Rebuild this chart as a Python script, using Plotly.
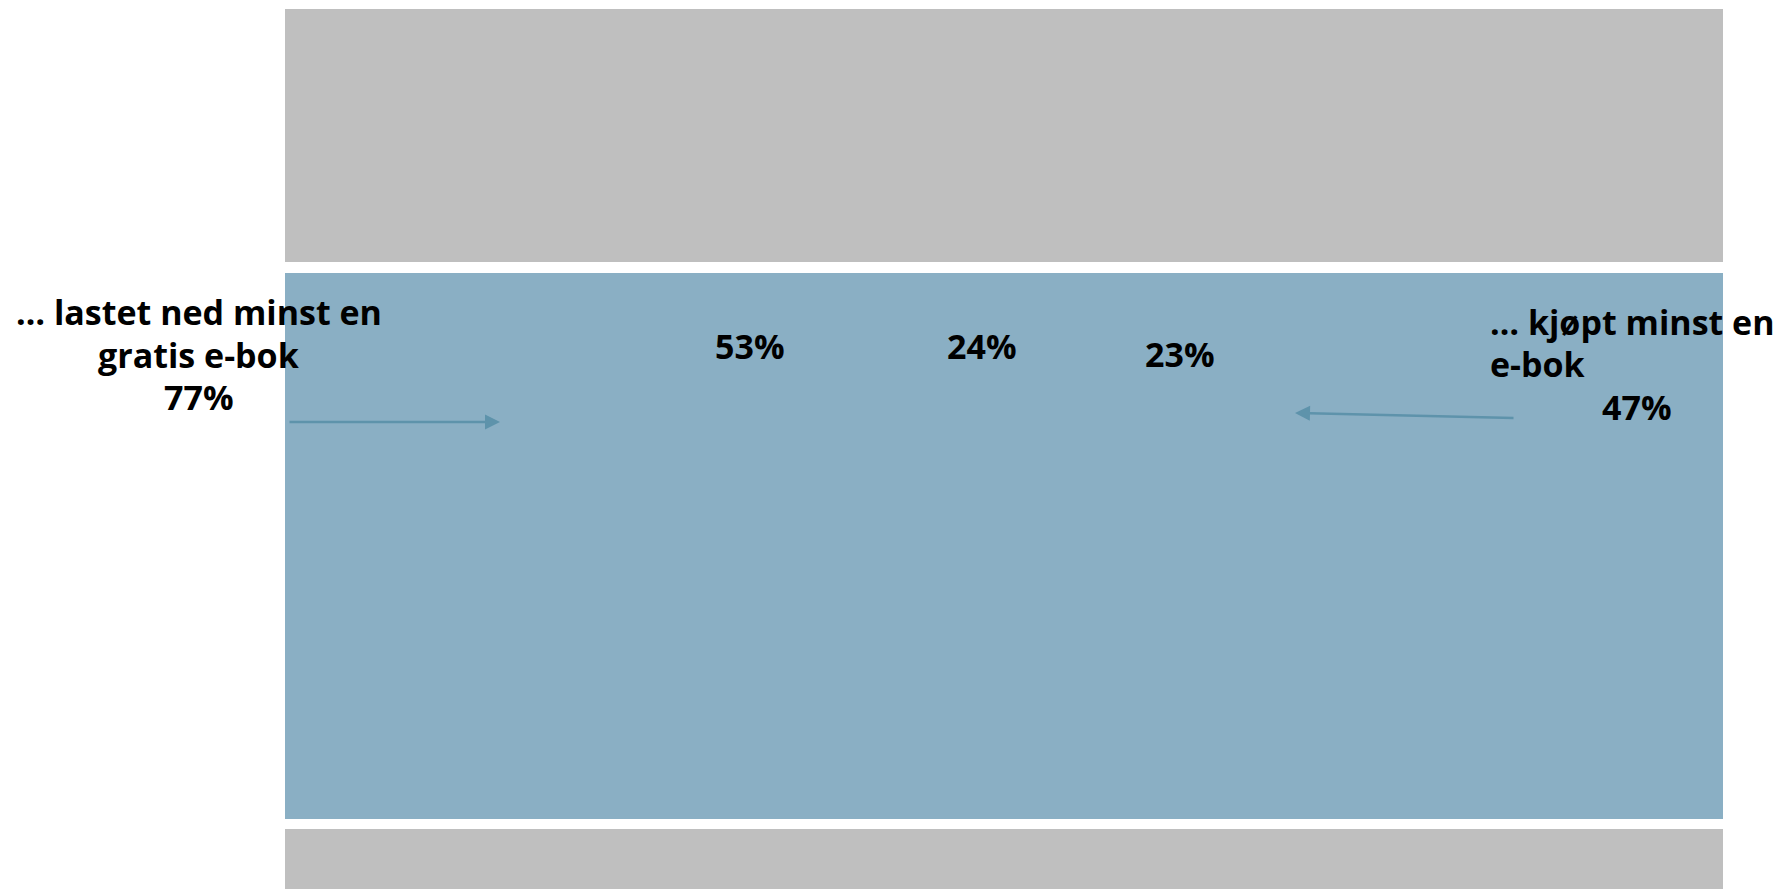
import plotly.graph_objects as go

# ---- data ----
band_names = ["top", "middle", "bottom"]
band_values = [100, 100, 100]
band_colors = ["#BFBFBF", "#8AAFC4", "#BFBFBF"]

segment_labels = ["53%", "24%", "23%"]
left_label_lines = ["… lastet ned minst en", "gratis e-bok", "77%"]
right_label_lines = ["… kjøpt minst en", "e-bok", "47%"]

OFF = 8  # page body margin in px
W, H = 1783 - OFF, 889 - OFF
PL, PR = 285 - OFF, 1723 - OFF  # plot area left/right in figure px


def fx(xp):
    """screen px -> paper x"""
    return (xp - OFF - PL) / (PR - PL)


def dx(xp):
    """screen px -> x data"""
    return fx(xp) * 100.0


def fy(yp):
    """screen px -> y data (y axis maps figure px directly)"""
    return yp - OFF


fig = go.Figure()
fig.add_trace(go.Bar(
    y=[fy(135.5), fy(546), fy(870)],
    x=band_values,
    width=[253, 546, 82],
    orientation="h",
    marker=dict(color=band_colors, line=dict(width=0)),
    hoverinfo="skip",
    showlegend=False,
))

FONT = dict(family="Open Sans, sans-serif", size=34, color="#000000")
ann = []

# left label
for txt, (xc, yc) in zip(left_label_lines, [(199, 312), (199, 355), (199, 397)]):
    ann.append(dict(x=fx(xc), y=fy(yc), xref="paper", yref="y", text=f"<b>{txt}</b>",
                    showarrow=False, font=FONT, xanchor="center", yanchor="middle"))

# right label
for i, (txt, (xc, yc)) in enumerate(zip(right_label_lines, [(1488, 322), (1488, 364), (1637, 407)])):
    ann.append(dict(x=fx(xc), y=fy(yc), xref="paper", yref="y", text=f"<b>{txt}</b>",
                    showarrow=False, font=FONT,
                    xanchor="left" if i < 2 else "center", yanchor="middle"))

# segment labels
for txt, (xc, yc) in zip(segment_labels, [(750, 346), (982, 346), (1180, 354)]):
    ann.append(dict(x=fx(xc), y=fy(yc), xref="paper", yref="y", text=f"<b>{txt}</b>",
                    showarrow=False, font=FONT, xanchor="center", yanchor="middle"))

# arrows
ARROW = "#5E93AB"
ann.append(dict(x=dx(500), y=fy(422), ax=dx(288), ay=fy(422), xref="x", yref="y",
                axref="x", ayref="y", text="", showarrow=True, arrowhead=2,
                arrowsize=1.2, arrowwidth=2.5, arrowcolor=ARROW))
ann.append(dict(x=dx(1295), y=fy(413), ax=dx(1515), ay=fy(418), xref="x", yref="y",
                axref="x", ayref="y", text="", showarrow=True, arrowhead=2,
                arrowsize=1.2, arrowwidth=2.5, arrowcolor=ARROW))

fig.update_layout(
    width=W, height=H,
    margin=dict(l=PL, r=W - PR, t=0, b=0, pad=0),
    paper_bgcolor="white", plot_bgcolor="white",
    xaxis=dict(range=[0, 100], visible=False, fixedrange=True),
    yaxis=dict(range=[H, 0], visible=False, fixedrange=True),
    annotations=ann,
    bargap=0,
)

fig.write_html("out.html", config={"displayModeBar": False})
